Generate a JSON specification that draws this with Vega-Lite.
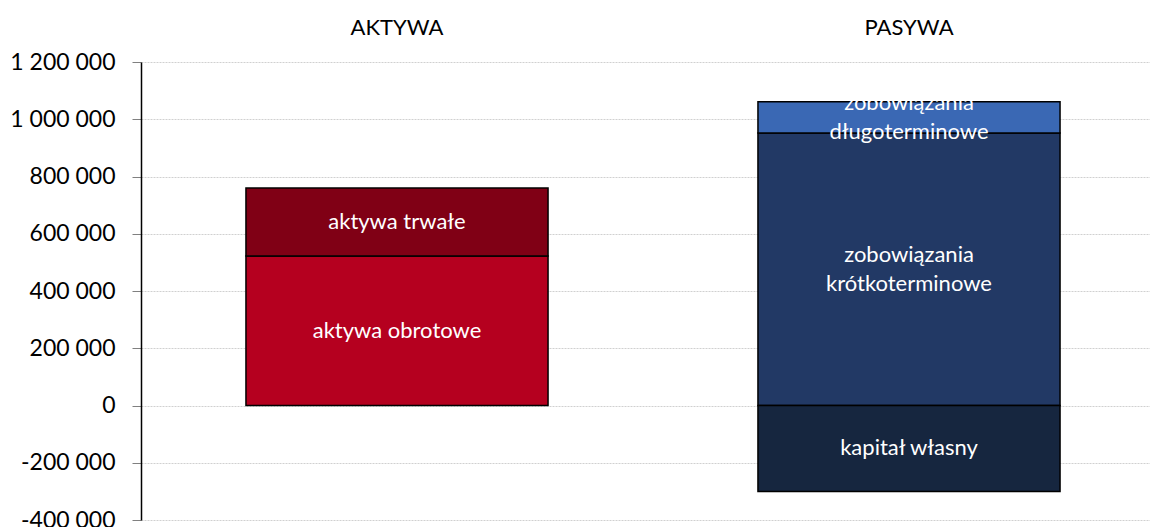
{
  "$schema": "https://vega.github.io/schema/vega-lite/v6.json",
  "width": 1009,
  "height": 458,
  "autosize": {"type": "none"},
  "padding": {"left": 141, "top": 62, "right": 0, "bottom": 7},
  "config": {
    "font": "Lato",
    "view": {"stroke": null},
    "locale": {"number": {"decimal": ",", "thousands": " ", "grouping": [3], "currency": ["", ""], "minus": "-"}}
  },
  "data": {
    "values": [
      {"side": "AKTYWA", "part": "aktywa obrotowe", "label": "aktywa obrotowe", "order": 1, "value": 522000},
      {"side": "AKTYWA", "part": "aktywa trwałe", "label": "aktywa trwałe", "order": 2, "value": 238000},
      {"side": "PASYWA", "part": "zobowiązania krótkoterminowe", "label": "zobowiązania\nkrótkoterminowe", "order": 1, "value": 952000},
      {"side": "PASYWA", "part": "zobowiązania długoterminowe", "label": "zobowiązania\ndługoterminowe", "order": 2, "value": 109000},
      {"side": "PASYWA", "part": "kapitał własny", "label": "kapitał własny", "order": 3, "value": -300000}
    ]
  },
  "transform": [
    {"stack": "value", "groupby": ["side"], "sort": [{"field": "order"}], "as": ["v0", "v1"]},
    {"calculate": "(datum.v0 + datum.v1) / 2", "as": "mid"}
  ],
  "encoding": {
    "x": {
      "field": "side", "type": "nominal", "sort": ["AKTYWA", "PASYWA"],
      "scale": {"range": [0, 1024], "paddingInner": 0.41, "paddingOuter": 0.205},
      "axis": {"orient": "top", "title": null, "domain": false, "ticks": false, "labelAngle": 0, "labelFontSize": 22, "labelColor": "#000000", "labelPadding": 23, "labelFont": "Lato"}
    }
  },
  "layer": [
    {
      "mark": {"type": "bar", "stroke": "#000000", "strokeWidth": 1.5},
      "encoding": {
        "y": {
          "field": "v0", "type": "quantitative",
          "scale": {"domain": [-400000, 1200000], "nice": false},
          "axis": {
            "title": null, "values": [-400000, -200000, 0, 200000, 400000, 600000, 800000, 1000000, 1200000],
            "format": ",d", "domainColor": "#000000", "domainWidth": 1.5,
            "tickColor": "#808080", "tickSize": 9, "labelFontSize": 23, "labelColor": "#000000", "labelPadding": 17,
            "gridColor": "#d0d0d0", "gridDash": [2, 1], "gridWidth": 1
          }
        },
        "y2": {"field": "v1"},
        "color": {
          "field": "part", "type": "nominal", "legend": null,
          "scale": {
            "domain": ["aktywa obrotowe", "aktywa trwałe", "zobowiązania krótkoterminowe", "zobowiązania długoterminowe", "kapitał własny"],
            "range": ["#B5001F", "#800015", "#223965", "#3A68B4", "#16263F"]
          }
        }
      }
    },
    {
      "mark": {"type": "rule", "color": "#000000", "strokeWidth": 1.5},
      "encoding": {"y": {"datum": 0}}
    },
    {
      "transform": [{"filter": "indexof(datum.label, '\\n') < 0"}],
      "mark": {"type": "text", "color": "#ffffff", "fontSize": 22, "align": "center", "baseline": "middle"},
      "encoding": {
        "y": {"field": "mid", "type": "quantitative"},
        "text": {"field": "label"}
      }
    },
    {
      "transform": [{"filter": "indexof(datum.label, '\\n') >= 0"}],
      "mark": {"type": "text", "color": "#ffffff", "fontSize": 22, "lineBreak": "\n", "lineHeight": 29, "align": "center", "baseline": "middle", "dy": -14},
      "encoding": {
        "y": {"field": "mid", "type": "quantitative"},
        "text": {"field": "label"}
      }
    }
  ]
}
